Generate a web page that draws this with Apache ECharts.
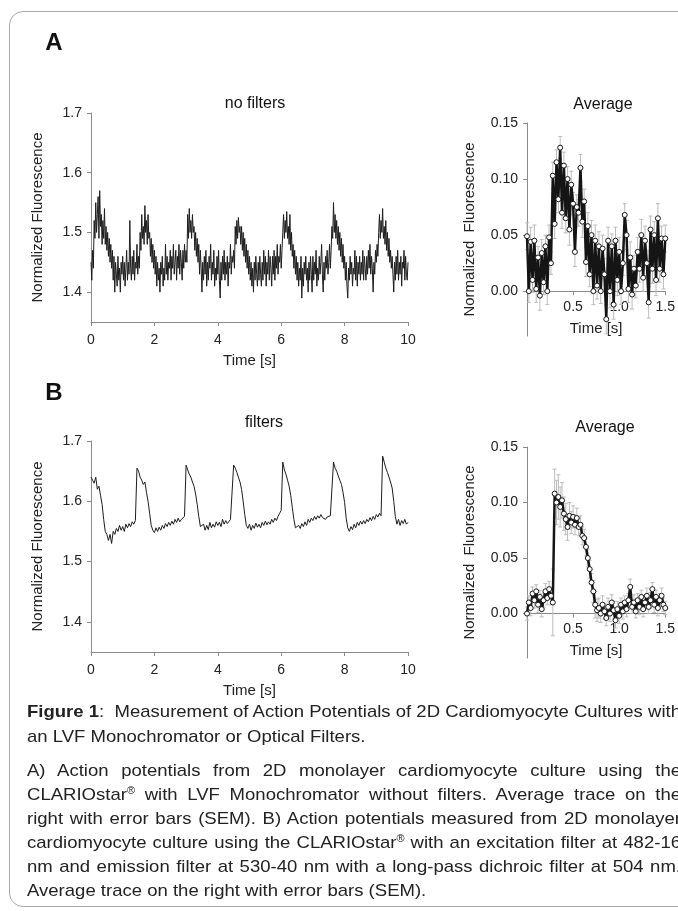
<!DOCTYPE html>
<html>
<head>
<meta charset="utf-8">
<script src="https://cdn.jsdelivr.net/npm/echarts@6/dist/echarts.min.js"></script>
<style>
  html, body { margin: 0; padding: 0; width: 678px; height: 911px; overflow: hidden; background: #fff; }
  body { font-family: 'Liberation Sans', Arial, sans-serif; color: #222; }
  #frame { position: absolute; left: 9px; top: 11px; width: 720px; height: 894px; border: 1px solid #a9a9a9; border-radius: 14px; }
  #chart { position: absolute; left: 0; top: 0; width: 678px; height: 705px; }
  .cap { position: absolute; left: 27px; width: 654px; font-size: 17px; line-height: 20px; white-space: nowrap; transform-origin: 0 0; }
  .j { text-align: justify; text-align-last: justify; white-space: normal; }
  .r { font-size: 10px; position: relative; top: -6px; }
</style>
</head>
<body>
<div id="frame"></div>
<div id="chart"></div>
<div class="cap" style="top:702px"><b>Figure 1</b>:&nbsp; Measurement of Action Potentials of 2D Cardiomyocyte Cultures with</div>
<div class="cap" style="top:727px">an LVF Monochromator or Optical Filters.</div>
<div class="cap j" style="top:761px">A) Action potentials from 2D monolayer cardiomyocyte culture using the</div>
<div class="cap j" style="top:785px">CLARIOstar<span class="r">®</span> with LVF Monochromator without filters. Average trace on the</div>
<div class="cap j" style="top:809px">right with error bars (SEM). B) Action potentials measured from 2D monolayer</div>
<div class="cap j" style="top:833px">cardiomyocyte culture using the CLARIOstar<span class="r">®</span> with an excitation filter at 482-16</div>
<div class="cap j" style="top:857px">nm and emission filter at 530-40 nm with a long-pass dichroic filter at 504 nm.</div>
<div class="cap" style="top:881px">Average trace on the right with error bars (SEM).</div>
<script>
// raw trace without filters, sampled every 0.025 s
const dtTraceNoFilters = 0.025;
const traceNoFilters = [
  1.45, 1.42, 1.47, 1.44, 1.52, 1.49, 1.55, 1.50, 1.53, 1.56, 1.49, 1.57, 1.51, 1.53, 1.48, 1.52, 1.49, 1.54, 1.48, 1.51,
  1.47, 1.50, 1.46, 1.49, 1.45, 1.48, 1.44, 1.47, 1.42, 1.46, 1.40, 1.45, 1.43, 1.41, 1.46, 1.42, 1.44, 1.40, 1.45, 1.43,
  1.46, 1.42, 1.45, 1.41, 1.44, 1.47, 1.42, 1.45, 1.43, 1.52, 1.44, 1.42, 1.46, 1.43, 1.47, 1.42, 1.45, 1.44, 1.48, 1.43,
  1.46, 1.44, 1.50, 1.47, 1.53, 1.49, 1.51, 1.48, 1.545, 1.50, 1.52, 1.48, 1.53, 1.49, 1.50, 1.46, 1.49, 1.45, 1.48, 1.44,
  1.47, 1.43, 1.46, 1.41, 1.45, 1.42, 1.44, 1.40, 1.45, 1.43, 1.46, 1.41, 1.44, 1.42, 1.48, 1.43, 1.46, 1.42, 1.45, 1.44,
  1.47, 1.42, 1.46, 1.44, 1.48, 1.43, 1.45, 1.47, 1.42, 1.46, 1.44, 1.48, 1.43, 1.47, 1.45, 1.42, 1.47, 1.44, 1.48, 1.45,
  1.47, 1.45, 1.53, 1.49, 1.54, 1.50, 1.52, 1.49, 1.53, 1.50, 1.51, 1.47, 1.50, 1.46, 1.49, 1.45, 1.48, 1.43, 1.47, 1.44,
  1.40, 1.45, 1.42, 1.46, 1.43, 1.47, 1.41, 1.45, 1.42, 1.46, 1.44, 1.48, 1.42, 1.45, 1.43, 1.47, 1.41, 1.44, 1.42, 1.46,
  1.43, 1.47, 1.42, 1.39, 1.45, 1.42, 1.46, 1.43, 1.47, 1.42, 1.45, 1.43, 1.46, 1.41, 1.45, 1.44, 1.48, 1.43, 1.46, 1.45,
  1.47, 1.44, 1.51, 1.48, 1.52, 1.49, 1.525, 1.50, 1.51, 1.48, 1.51, 1.47, 1.50, 1.46, 1.49, 1.45, 1.48, 1.44, 1.47, 1.43,
  1.46, 1.42, 1.45, 1.41, 1.44, 1.40, 1.45, 1.42, 1.46, 1.43, 1.41, 1.45, 1.42, 1.46, 1.43, 1.41, 1.45, 1.42, 1.47, 1.43,
  1.46, 1.41, 1.45, 1.43, 1.47, 1.42, 1.46, 1.44, 1.41, 1.46, 1.43, 1.47, 1.42, 1.46, 1.44, 1.48, 1.43, 1.46, 1.45, 1.48,
  1.44, 1.47, 1.50, 1.53, 1.49, 1.52, 1.50, 1.535, 1.49, 1.51, 1.48, 1.53, 1.47, 1.50, 1.46, 1.48, 1.44, 1.47, 1.43, 1.46,
  1.42, 1.45, 1.41, 1.44, 1.42, 1.46, 1.39, 1.44, 1.41, 1.45, 1.43, 1.46, 1.42, 1.44, 1.40, 1.45, 1.42, 1.46, 1.43, 1.40,
  1.46, 1.42, 1.45, 1.43, 1.47, 1.41, 1.44, 1.42, 1.46, 1.43, 1.45, 1.48, 1.43, 1.40, 1.45, 1.42, 1.46, 1.44, 1.47, 1.43,
  1.45, 1.48, 1.44, 1.47, 1.51, 1.49, 1.55, 1.50, 1.53, 1.49, 1.52, 1.48, 1.51, 1.47, 1.50, 1.46, 1.49, 1.45, 1.48, 1.44,
  1.46, 1.42, 1.45, 1.41, 1.39, 1.44, 1.42, 1.46, 1.43, 1.45, 1.41, 1.44, 1.43, 1.47, 1.42, 1.46, 1.41, 1.45, 1.43, 1.46,
  1.42, 1.45, 1.43, 1.47, 1.42, 1.46, 1.44, 1.42, 1.46, 1.43, 1.47, 1.44, 1.48, 1.43, 1.46, 1.44, 1.40, 1.45, 1.43, 1.47,
  1.45, 1.48, 1.46, 1.50, 1.53, 1.49, 1.52, 1.50, 1.54, 1.49, 1.51, 1.48, 1.52, 1.47, 1.50, 1.46, 1.49, 1.45, 1.47, 1.44,
  1.46, 1.43, 1.40, 1.45, 1.42, 1.46, 1.43, 1.47, 1.42, 1.45, 1.43, 1.46, 1.41, 1.45, 1.44, 1.47, 1.42, 1.46, 1.43, 1.42,
  1.45
];
// raw trace with filters, sampled every 0.05 s
const dtTraceFilters = 0.05;
const traceFilters = [
  1.640, 1.635, 1.630, 1.640, 1.620, 1.625, 1.610, 1.595, 1.570, 1.550,
  1.545, 1.535, 1.545, 1.530, 1.550, 1.545, 1.555, 1.550, 1.560, 1.552,
  1.558, 1.550, 1.562, 1.556, 1.563, 1.558, 1.566, 1.562, 1.568, 1.655,
  1.650, 1.640, 1.635, 1.628, 1.632, 1.615, 1.600, 1.580, 1.560, 1.552,
  1.548, 1.556, 1.550, 1.557, 1.552, 1.560, 1.555, 1.563, 1.558, 1.565,
  1.560, 1.567, 1.562, 1.570, 1.565, 1.572, 1.566, 1.570, 1.568, 1.575,
  1.660, 1.652, 1.645, 1.640, 1.632, 1.625, 1.612, 1.595, 1.575, 1.558,
  1.555, 1.562, 1.552, 1.560, 1.553, 1.565, 1.556, 1.562, 1.557, 1.566,
  1.560, 1.565, 1.558, 1.570, 1.562, 1.568, 1.563, 1.566, 1.570, 1.572,
  1.660, 1.655, 1.648, 1.640, 1.632, 1.620, 1.600, 1.578, 1.560, 1.555,
  1.562, 1.552, 1.560, 1.555, 1.564, 1.557, 1.562, 1.556, 1.565, 1.560,
  1.567, 1.561, 1.566, 1.562, 1.570, 1.565, 1.572, 1.568, 1.575, 1.580,
  1.585, 1.665, 1.652, 1.645, 1.635, 1.625, 1.610, 1.590, 1.570, 1.556,
  1.553, 1.560, 1.555, 1.563, 1.558, 1.566, 1.560, 1.570, 1.565, 1.572,
  1.568, 1.575, 1.570, 1.576, 1.572, 1.578, 1.573, 1.575, 1.570, 1.574,
  1.572, 1.576, 1.575, 1.665, 1.655, 1.650, 1.642, 1.635, 1.628, 1.615,
  1.598, 1.572, 1.556, 1.550, 1.558, 1.553, 1.562, 1.556, 1.565, 1.560,
  1.567, 1.562, 1.568, 1.563, 1.570, 1.566, 1.573, 1.568, 1.575, 1.570,
  1.578, 1.574, 1.580, 1.576, 1.675, 1.665, 1.655, 1.648, 1.640, 1.632,
  1.622, 1.600, 1.575, 1.562, 1.570, 1.560, 1.568, 1.563, 1.570, 1.562,
  1.565
];

// averaged traces with SEM, sampled every 0.02 s
const dtAvg = 0.02;
const avgNoFilters = [
  0.049, 0.000, 0.044, 0.010, 0.045, 0.002, 0.030, -0.004, 0.034, 0.008,
  0.040, 0.000, 0.048, 0.025, 0.103, 0.060, 0.115, 0.082, 0.128, 0.070,
  0.112, 0.065, 0.100, 0.055, 0.095, 0.078, 0.035, 0.075, 0.070, 0.110,
  0.062, 0.080, 0.026, 0.058, 0.015, 0.050, 0.000, 0.045, 0.005, 0.040,
  0.000, 0.038, 0.015, -0.025, 0.045, 0.000, 0.040, -0.012, 0.045, 0.010,
  0.035, 0.000, 0.025, 0.068, 0.050, 0.002, 0.030, -0.003, 0.020, 0.005,
  0.035, 0.020, 0.050, 0.012, 0.045, 0.025, -0.010, 0.055, 0.020, 0.050,
  0.010, 0.065, 0.020, 0.047, 0.015, 0.047
];
const semNoFilters = [
  0.012, 0.010, 0.013, 0.011, 0.014, 0.012, 0.010, 0.013, 0.012, 0.011,
  0.010, 0.012, 0.011, 0.010, 0.012, 0.013, 0.011, 0.012, 0.010, 0.014,
  0.012, 0.013, 0.011, 0.014, 0.012, 0.010, 0.013, 0.011, 0.012, 0.012,
  0.014, 0.011, 0.013, 0.012, 0.011, 0.013, 0.012, 0.014, 0.012, 0.013,
  0.011, 0.012, 0.014, 0.013, 0.012, 0.015, 0.011, 0.013, 0.012, 0.014,
  0.013, 0.012, 0.011, 0.010, 0.013, 0.012, 0.014, 0.013, 0.012, 0.011,
  0.013, 0.012, 0.014, 0.012, 0.013, 0.011, 0.014, 0.012, 0.013, 0.012,
  0.014, 0.013, 0.012, 0.011, 0.013, 0.012
];
const avgFilters = [
  0.000, 0.010, 0.005, 0.018, 0.012, 0.020, 0.008, 0.015, 0.004, 0.012,
  0.020, 0.014, 0.022, 0.016, 0.010, 0.108, 0.100, 0.105, 0.096, 0.102,
  0.090, 0.085, 0.078, 0.088, 0.082, 0.087, 0.080, 0.086, 0.078, 0.080,
  0.070, 0.068, 0.060, 0.050, 0.040, 0.028, 0.020, 0.008, 0.003, 0.005,
  0.000, 0.008, 0.002, -0.004, 0.006, 0.000, 0.010, 0.003, -0.006, 0.004,
  -0.002, 0.008, 0.002, 0.010, 0.004, 0.012, 0.024, 0.006, 0.010, 0.002,
  0.012, 0.006, 0.015, 0.004, 0.010, 0.016, 0.006, 0.012, 0.022, 0.008,
  0.015, 0.005, 0.012, 0.016, 0.008, 0.005
];
const semFilters = [
  0.006, 0.006, 0.007, 0.006, 0.007, 0.006, 0.007, 0.006, 0.007, 0.006,
  0.007, 0.006, 0.007, 0.008, 0.030, 0.022, 0.020, 0.020, 0.018, 0.016,
  0.015, 0.014, 0.012, 0.012, 0.010, 0.010, 0.009, 0.009, 0.008, 0.008,
  0.008, 0.008, 0.008, 0.008, 0.008, 0.008, 0.010, 0.012, 0.010, 0.009,
  0.008, 0.008, 0.007, 0.007, 0.008, 0.007, 0.007, 0.008, 0.007, 0.007,
  0.007, 0.006, 0.007, 0.006, 0.007, 0.006, 0.007, 0.006, 0.007, 0.006,
  0.006, 0.007, 0.006, 0.007, 0.006, 0.007, 0.006, 0.007, 0.006, 0.007,
  0.006, 0.007, 0.006, 0.007, 0.006, 0.006
];

// tick labels
const traceYTicks = [1.4, 1.5, 1.6, 1.7];
const traceXTicks = [0, 2, 4, 6, 8, 10];
const avgYTicks = [0, 0.05, 0.10, 0.15];
const avgXTicks = [0.5, 1.0, 1.5];

const FONT = "'Liberation Sans', Arial, sans-serif";
const axisGray = '#8a8a8a';
const textDark = '#222';

const toPairs = (vals, dt) => vals.map((v, i) => [+(i * dt).toFixed(3), v]);

function valueAxis(opt) {
  return Object.assign({
    type: 'value',
    splitLine: { show: false },
    axisLine: { show: true, lineStyle: { color: axisGray, width: 1 } },
    nameLocation: 'middle',
    nameTextStyle: { color: textDark, fontSize: 15, fontFamily: FONT }
  }, opt);
}
function ticks(values) {
  return { show: true, length: 4, customValues: values, lineStyle: { color: axisGray } };
}
function labels(values, margin, digits) {
  return { color: textDark, fontSize: 14, fontFamily: FONT, margin: margin, customValues: values,
    formatter: v => v.toFixed(digits) };
}

function traceAxes(grid) {
  return {
    x: valueAxis({ gridIndex: grid, min: 0, max: 10, name: 'Time [s]', nameGap: 31,
      axisTick: ticks(traceXTicks), axisLabel: labels(traceXTicks, 11, 0) }),
    y: valueAxis({ gridIndex: grid, min: 1.35, max: 1.7, name: 'Normalized Fluorescence', nameGap: 46,
      axisTick: ticks(traceYTicks), axisLabel: labels(traceYTicks, 9, 1) })
  };
}

// the x axis sits on y = 0, which lies `zeroOffset` px above the grid bottom
function avgAxes(grid, zeroOffset) {
  return {
    x: valueAxis({ gridIndex: grid, min: 0, max: 1.5, name: 'Time [s]', nameGap: 30,
      axisLine: { show: true, onZero: false, lineStyle: { color: axisGray, width: 1 } },
      offset: -zeroOffset,
      axisTick: ticks(avgXTicks), axisLabel: labels(avgXTicks, 9, 1) }),
    y: valueAxis({ gridIndex: grid, min: -0.04, max: 0.15, name: 'Normalized  Fluorescence', nameGap: 50,
      axisTick: ticks(avgYTicks), axisLabel: labels(avgYTicks, 9, 2) })
  };
}

function traceSeries(idx, vals, dt) {
  return {
    type: 'line', xAxisIndex: idx, yAxisIndex: idx,
    data: toPairs(vals, dt), showSymbol: false, animation: false,
    lineStyle: { color: '#1c1c1c', width: 1 }
  };
}

function errorSeries(idx, avg, sem) {
  return {
    type: 'custom', xAxisIndex: idx, yAxisIndex: idx, z: 1, animation: false,
    data: avg.map((v, i) => [+(i * dtAvg).toFixed(3), v - sem[i], v + sem[i]]),
    encode: { x: 0, y: [1, 2] },
    renderItem: function (params, api) {
      const lo = api.coord([api.value(0), api.value(1)]);
      const hi = api.coord([api.value(0), api.value(2)]);
      const st = { stroke: '#bcbcbc', lineWidth: 1 };
      return {
        type: 'group',
        children: [
          { type: 'line', shape: { x1: lo[0], y1: lo[1], x2: hi[0], y2: hi[1] }, style: st },
          { type: 'line', shape: { x1: lo[0] - 2, y1: lo[1], x2: lo[0] + 2, y2: lo[1] }, style: st },
          { type: 'line', shape: { x1: hi[0] - 2, y1: hi[1], x2: hi[0] + 2, y2: hi[1] }, style: st }
        ]
      };
    }
  };
}

function avgSeries(idx, avg) {
  return {
    type: 'line', xAxisIndex: idx, yAxisIndex: idx, z: 3, animation: false,
    data: toPairs(avg, dtAvg), symbol: 'circle', symbolSize: 5, showAllSymbol: true,
    lineStyle: { color: '#151515', width: 2.5 },
    itemStyle: { color: '#fff', borderColor: '#151515', borderWidth: 1 }
  };
}

const a1 = traceAxes(0), a2 = avgAxes(1, 213 * 0.04 / 0.19), b1 = traceAxes(2), b2 = avgAxes(3, 211 * 0.04 / 0.19);

function label(text, x, y, size, bold) {
  return {
    type: 'text', x: x, y: y,
    style: { text: text, fill: '#111', font: (bold ? 'bold ' : '') + size + 'px ' + FONT,
      textAlign: 'center', textVerticalAlign: 'middle' }
  };
}

const chart = echarts.init(document.getElementById('chart'));
chart.setOption({
  animation: false,
  grid: [
    { left: 91, top: 113, width: 317, height: 209 },
    { left: 527, top: 123, width: 141, height: 213 },
    { left: 91, top: 441, width: 317, height: 211 },
    { left: 527, top: 447, width: 141, height: 211 }
  ],
  xAxis: [a1.x, a2.x, b1.x, b2.x],
  yAxis: [a1.y, a2.y, b1.y, b2.y],
  series: [
    traceSeries(0, traceNoFilters, dtTraceNoFilters),
    errorSeries(1, avgNoFilters, semNoFilters),
    avgSeries(1, avgNoFilters),
    traceSeries(2, traceFilters, dtTraceFilters),
    errorSeries(3, avgFilters, semFilters),
    avgSeries(3, avgFilters)
  ],
  graphic: [
    label('A', 54, 43, 24, true),
    label('B', 54, 393, 24, true),
    label('no filters', 255, 104, 16, false),
    label('Average', 603, 105, 16, false),
    label('filters', 264, 423, 16, false),
    label('Average', 605, 428, 16, false)
  ]
});

// caption: first line sets the horizontal scale, the justified lines fill the same width
const capWidth = 654;
const lines = document.querySelectorAll('.cap');
const probe = document.createElement('span');
probe.style.cssText = 'position:absolute;visibility:hidden;white-space:nowrap;font-size:17px;';
probe.innerHTML = lines[0].innerHTML;
document.body.appendChild(probe);
const scale = capWidth / probe.getBoundingClientRect().width;
probe.remove();
lines.forEach(el => {
  el.style.width = (capWidth / scale) + 'px';
  el.style.transform = 'scaleX(' + scale + ')';
});
</script>
</body>
</html>
